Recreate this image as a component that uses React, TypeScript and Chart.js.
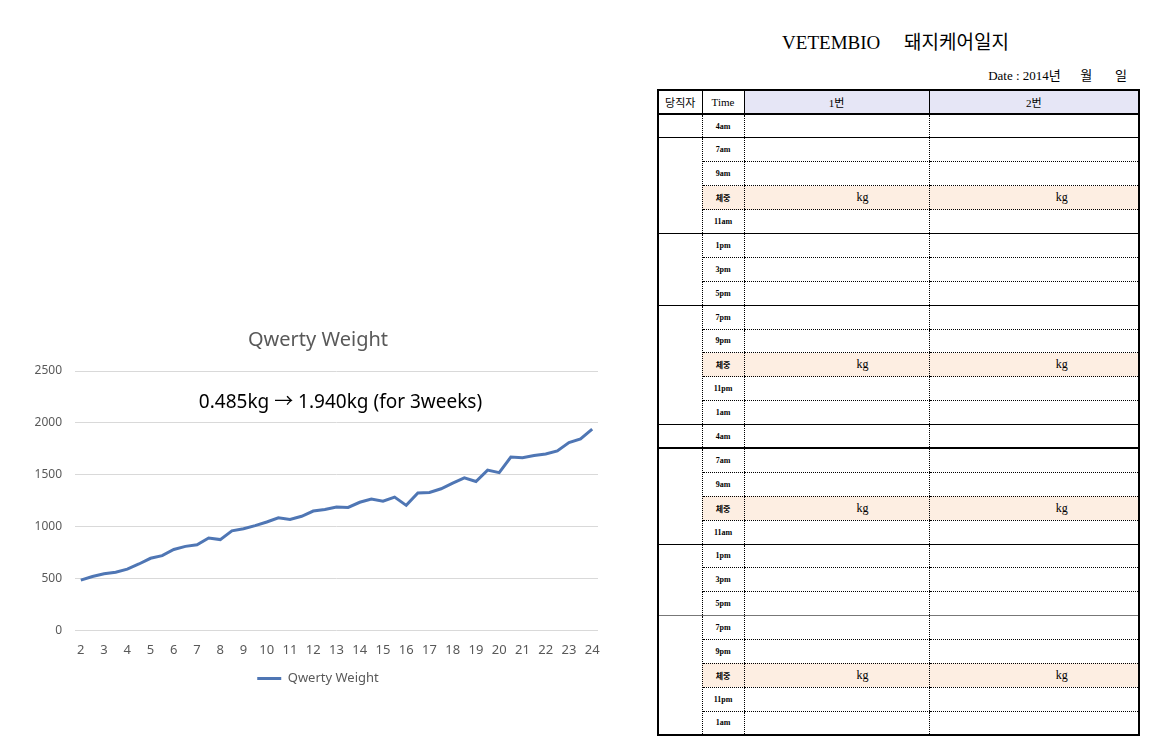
import React, { useEffect, useRef } from 'react';
import { Chart, registerables } from 'chart.js';

Chart.register(...registerables);

// ---- chart data ----
const days = [2, 2.5, 3, 3.5, 4, 4.5, 5, 5.5, 6, 6.5, 7, 7.5, 8, 8.5, 9, 9.5, 10, 10.5, 11, 11.5, 12, 12.5, 13, 13.5, 14, 14.5, 15, 15.5, 16, 16.5, 17, 17.5, 18, 18.5, 19, 19.5, 20, 20.5, 21, 21.5, 22, 22.5, 23, 23.5, 24];
const weights = [485, 520, 545, 560, 590, 640, 695, 720, 780, 810, 825, 890, 875, 960, 980, 1010, 1045, 1085, 1070, 1100, 1150, 1165, 1190, 1185, 1235, 1265, 1245, 1285, 1205, 1325, 1330, 1365, 1420, 1470, 1435, 1545, 1520, 1670, 1665, 1685, 1700, 1730, 1810, 1845, 1940];
const yTicks = [0, 500, 1000, 1500, 2000, 2500];
const seriesName = 'Qwerty Weight';
const chartTitle = 'Qwerty Weight';
const noteText = '0.485kg \u2192 1.940kg (for 3weeks)';
const noteValue = 2200;

// ---- form (table) content ----
const formTitle = 'VETEMBIO\u00a0\u00a0\u00a0\u00a0\u00a0돼지케어일지';
const dateText = 'Date : 2014년\u00a0\u00a0\u00a0\u00a0\u00a0\u00a0월\u00a0\u00a0\u00a0\u00a0\u00a0\u00a0\u00a0일';
const headers = ['당직자', 'Time', '1번', '2번'];
const timeSlots = ['4am', '7am', '9am', '체중', '11am', '1pm', '3pm', '5pm', '7pm', '9pm', '체중', '11pm', '1am', '4am', '7am', '9am', '체중', '11am', '1pm', '3pm', '5pm', '7pm', '9pm', '체중', '11pm', '1am'];
const groupSizes = [1, 4, 3, 5, 1, 4, 3, 5];
const groupEndBorders = ['1px solid #000', '1px solid #000', '1px solid #000', '1px solid #000', '2px solid #000', '1px solid #000', '1px solid #777', '2px solid #000'];
const weightSlot = '체중';
const weightUnit = 'kg';

const FONT = "'Noto Sans', 'Noto Sans CJK KR', sans-serif";
const SERIF = "'Liberation Serif', 'Noto Sans CJK KR', serif";

function WeightChart() {
  const ref = useRef<HTMLCanvasElement>(null);
  useEffect(() => {
    if (!ref.current) return;
    const notePlugin = {
      id: 'notePlugin',
      afterDraw(chart: any) {
        const { ctx, chartArea, scales } = chart;
        ctx.save();
        ctx.font = `19px ${FONT}`;
        ctx.fillStyle = '#000';
        ctx.textAlign = 'center';
        ctx.textBaseline = 'middle';
        ctx.fillText(noteText, (chartArea.left + chartArea.right) / 2 + 4, scales.y.getPixelForValue(noteValue));
        ctx.restore();
      },
    };
    const chart = new Chart(ref.current, {
      type: 'line',
      data: {
        labels: days.map(String),
        datasets: [
          {
            label: seriesName,
            data: weights,
            borderColor: '#4f76b4',
            backgroundColor: '#4f76b4',
            borderWidth: 3,
            pointRadius: 0,
            pointStyle: 'line',
            tension: 0,
          },
        ],
      },
      options: {
        responsive: false,
        animation: false,
        layout: { padding: { top: 8, right: 22, bottom: 5, left: 38 } },
        plugins: {
          title: {
            display: true,
            text: chartTitle,
            color: '#595959',
            font: { family: FONT, size: 20, weight: 'normal' },
            padding: { top: 0, bottom: 19 },
          },
          legend: {
            position: 'bottom',
            labels: {
              usePointStyle: true,
              pointStyleWidth: 24,
              boxHeight: 13,
              color: '#595959',
              font: { family: FONT, size: 13 },
              padding: 2,
            },
          },
          tooltip: { enabled: false },
        },
        scales: {
          x: {
            type: 'category',
            offset: true,
            grid: { display: false, drawTicks: false },
            border: { display: false },
            ticks: {
              autoSkip: false,
              maxRotation: 0,
              padding: 12,
              color: '#595959',
              font: { family: FONT, size: 13 },
              callback: function (this: any, value: any) {
                const lab = this.getLabelForValue(value);
                return Number.isInteger(parseFloat(lab)) ? lab : '';
              },
            },
          },
          y: {
            min: 0,
            max: 2500,
            afterBuildTicks: (s: any) => {
              s.ticks = yTicks.map((v) => ({ value: v }));
            },
            afterFit: (s: any) => {
              s.width = 37;
              // let the tick labels extend left of the (narrow) axis box
              s._computeLabelArea = () => undefined;
            },
            grid: { color: '#d9d9d9', drawTicks: false, lineWidth: 1 },
            border: { display: false },
            ticks: {
              padding: 13,
              color: '#595959',
              font: { family: FONT, size: 12 },
              callback: (v: any) => String(v),
            },
          },
        },
      },
      plugins: [notePlugin],
    } as any);
    return () => chart.destroy();
  }, []);
  return <canvas ref={ref} width={620} height={380} style={{ display: 'block' }} />;
}

function CareForm() {
  const rows: React.ReactNode[] = [];
  let idx = 0;
  const dotted = '1px dotted #000';
  groupSizes.forEach((size, g) => {
    for (let k = 0; k < size; k++) {
      const slot = timeSlots[idx];
      const isWeight = slot === weightSlot;
      const last = k === size - 1;
      const bottom = last ? groupEndBorders[g] : dotted;
      const bg = isWeight ? '#fdeee2' : '#fff';
      rows.push(
        <tr key={idx} style={{ height: 23.9 }}>
          {k === 0 && (
            <td rowSpan={size} style={{ borderBottom: groupEndBorders[g], borderRight: dotted, padding: 0 }} />
          )}
          <td
            style={{
              borderBottom: bottom,
              borderLeft: dotted,
              background: bg,
              textAlign: 'center',
              fontFamily: SERIF,
              fontWeight: 'bold',
              fontSize: 8,
              padding: 0,
            }}
          >
            {slot}
          </td>
          <td
            style={{
              borderBottom: bottom,
              borderLeft: dotted,
              background: bg,
              textAlign: 'center',
              fontFamily: SERIF,
              fontSize: 12,
              padding: '0 0 0 52px',
            }}
          >
            {isWeight ? weightUnit : ''}
          </td>
          <td
            style={{
              borderBottom: bottom,
              borderLeft: dotted,
              background: bg,
              textAlign: 'center',
              fontFamily: SERIF,
              fontSize: 12,
              padding: '0 0 0 56px',
            }}
          >
            {isWeight ? weightUnit : ''}
          </td>
        </tr>
      );
      idx++;
    }
  });
  const headCell = (txt: string, i: number) => (
    <th
      key={i}
      style={{
        borderBottom: '2px solid #000',
        borderLeft: i === 0 ? undefined : '1px solid #000',
        background: i >= 2 ? '#e6e6f6' : '#fff',
        fontWeight: 'normal',
        fontFamily: i === 0 ? "'Noto Sans CJK KR', sans-serif" : SERIF,
        fontSize: 11,
        padding: 0,
      }}
    >
      {txt}
    </th>
  );
  return (
    <>
      <div
        style={{
          position: 'absolute',
          left: 655,
          top: 27,
          width: 481,
          textAlign: 'center',
          fontFamily: SERIF,
          fontSize: 19,
          color: '#000',
          whiteSpace: 'pre',
        }}
      >
        {formTitle}
      </div>
      <div
        style={{
          position: 'absolute',
          right: 25,
          top: 65,
          fontFamily: SERIF,
          fontSize: 13,
          color: '#000',
          whiteSpace: 'pre',
        }}
      >
        {dateText}
      </div>
      <table
        style={{
          position: 'absolute',
          left: 657,
          top: 89,
          width: 481,
          borderCollapse: 'collapse',
          tableLayout: 'fixed',
          border: '2px solid #000',
        }}
      >
        <colgroup>
          <col style={{ width: 44 }} />
          <col style={{ width: 42 }} />
          <col style={{ width: 185 }} />
          <col style={{ width: 210 }} />
        </colgroup>
        <thead>
          <tr style={{ height: 24 }}>{headers.map(headCell)}</tr>
        </thead>
        <tbody>{rows}</tbody>
      </table>
    </>
  );
}

export default function App() {
  return (
    <div
      style={{
        position: 'fixed',
        left: 0,
        top: 0,
        width: 1152,
        height: 749,
        background: '#fff',
        overflow: 'hidden',
      }}
    >
      <div style={{ position: 'absolute', left: 0, top: 320, width: 620, height: 380 }}>
        <WeightChart />
      </div>
      <CareForm />
    </div>
  );
}
